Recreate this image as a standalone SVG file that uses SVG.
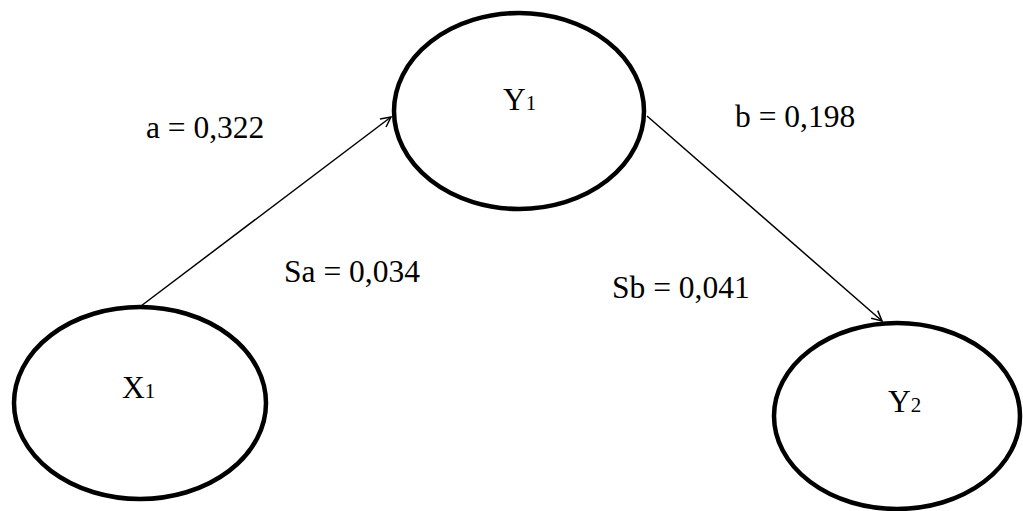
<svg xmlns="http://www.w3.org/2000/svg" width="1023" height="511" viewBox="0 0 1023 511">
  <style>
    .node { fill: #fff; stroke: #000; stroke-width: 4.5; }
    .edge { fill: none; stroke: #000; stroke-width: 1.5; }
    text { font-family: "Liberation Serif", "Times New Roman", serif; font-size: 31.5px; fill: #000; }
    .sub { font-size: 21px; }
  </style>
  <defs>
    <marker id="open-arrow" viewBox="0 0 12 12" refX="11" refY="6" markerWidth="12" markerHeight="12" markerUnits="userSpaceOnUse" orient="auto">
      <path d="M1,1 L11,6 L1,11" fill="none" stroke="#000" stroke-width="1.5"/>
    </marker>
  </defs>

  <g id="connectors">
    <line class="edge" x1="141" y1="306" x2="391" y2="117" marker-end="url(#open-arrow)"/>
    <line class="edge" x1="647" y1="116" x2="882" y2="321" marker-end="url(#open-arrow)"/>
    <text x="146" y="138">a = 0,322</text>
    <text x="284" y="282">Sa = 0,034</text>
    <text x="735" y="127">b = 0,198</text>
    <text x="612" y="298">Sb = 0,041</text>
  </g>

  <g id="node-y1">
    <ellipse class="node" cx="519" cy="111" rx="125" ry="98"/>
    <text x="503" y="110">Y<tspan class="sub">1</tspan></text>
  </g>

  <g id="node-x1">
    <ellipse class="node" cx="140" cy="403" rx="126" ry="96"/>
    <text x="122" y="398">X<tspan class="sub">1</tspan></text>
  </g>

  <g id="node-y2">
    <ellipse class="node" cx="897" cy="416" rx="123" ry="93"/>
    <text x="888" y="412">Y<tspan class="sub">2</tspan></text>
  </g>
</svg>
